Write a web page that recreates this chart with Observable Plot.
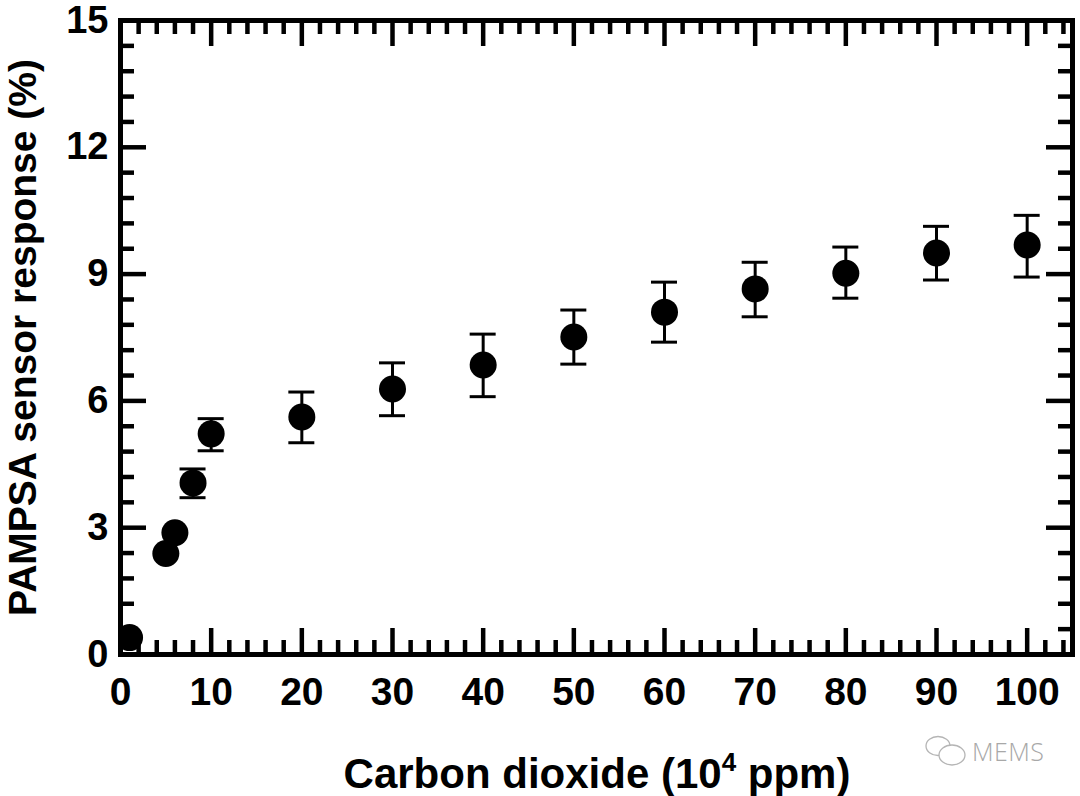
<!DOCTYPE html>
<html><head><meta charset="utf-8">
<script src="https://cdn.jsdelivr.net/npm/d3@7"></script>
<script src="https://cdn.jsdelivr.net/npm/@observablehq/plot@0.6"></script>
<style>
html,body{margin:0;padding:0;background:#fff;}
#chart{width:1080px;height:796px;}
</style></head><body><div id="chart"></div>
<script>
// CO2 concentration (10^4 ppm)
const concentration = [1, 5, 6, 8, 10, 20, 30, 40, 50, 60, 70, 80, 90, 100];
// PAMPSA sensor response (%)
const response = [0.4, 2.39, 2.88, 4.06, 5.22, 5.62, 6.28, 6.85, 7.51, 8.10, 8.65, 9.02, 9.50, 9.69];
// error bar ends (null = hidden behind marker)
const errLow  = [null, null, null, 3.71, 4.82, 5.01, 5.65, 6.10, 6.87, 7.39, 7.99, 8.43, 8.86, 8.93];
const errHigh = [null, null, null, 4.39, 5.58, 6.21, 6.90, 7.58, 8.15, 8.81, 9.28, 9.64, 10.13, 10.39];

const xMajorTicks = [0, 10, 20, 30, 40, 50, 60, 70, 80, 90, 100];
const yMajorTicks = [0, 3, 6, 9, 12, 15];
const xMinorTicks = d3.range(0, 53).map(i => i * 2).filter(v => v % 10 !== 0);
const yMinorTicks = d3.range(0, 26).filter(i => i % 5 !== 0).map(i => i * 0.6);

const xLabel = "Carbon dioxide (10";
const xLabelSup = "4";
const xLabelEnd = " ppm)";
const yLabel = "PAMPSA sensor response (%)";

const data = concentration.map((c, i) => ({c, r: response[i], lo: errLow[i], hi: errHigh[i]}));
const errData = data.filter(d => d.lo != null);

const W = 1080, H = 796, mL = 120, mR = 8, mT = 20, mB = 142;
const innerW = W - mL - mR, innerH = H - mT - mB;
const minorLen = 14, majorLen = 26, tickW = 4.5;
const font = "'Liberation Sans', Arial, Helvetica, sans-serif";

const plot = Plot.plot({
  width: W, height: H,
  marginLeft: mL, marginRight: mR, marginTop: mT, marginBottom: mB,
  x: {domain: [0, 105], label: null},
  y: {domain: [0, 15], label: null},
  style: {fontFamily: font, background: "#fff", color: "#000"},
  marks: [
    Plot.ruleX(errData, {x: "c", y1: "lo", y2: "hi", strokeWidth: 3, stroke: "#000"}),
    Plot.ruleY(errData, {y: "lo", x1: "c", x2: "c", insetLeft: -13, insetRight: -13, strokeWidth: 3, stroke: "#000"}),
    Plot.ruleY(errData, {y: "hi", x1: "c", x2: "c", insetLeft: -13, insetRight: -13, strokeWidth: 3, stroke: "#000"}),
    Plot.dot(data, {x: "c", y: "r", r: 13.5, fill: "#000", stroke: "none", clip: true}),
    // inward ticks, bottom & top
    Plot.ruleX(xMinorTicks, {insetTop: innerH - minorLen, strokeWidth: tickW, stroke: "#000"}),
    Plot.ruleX(xMinorTicks, {insetBottom: innerH - minorLen, strokeWidth: tickW, stroke: "#000"}),
    Plot.ruleX(xMajorTicks, {insetTop: innerH - majorLen, strokeWidth: tickW, stroke: "#000"}),
    Plot.ruleX(xMajorTicks, {insetBottom: innerH - majorLen, strokeWidth: tickW, stroke: "#000"}),
    // inward ticks, left & right
    Plot.ruleY(yMinorTicks, {insetRight: innerW - minorLen, strokeWidth: tickW, stroke: "#000"}),
    Plot.ruleY(yMinorTicks, {insetLeft: innerW - minorLen, strokeWidth: tickW, stroke: "#000"}),
    Plot.ruleY(yMajorTicks, {insetRight: innerW - majorLen, strokeWidth: tickW, stroke: "#000"}),
    Plot.ruleY(yMajorTicks, {insetLeft: innerW - majorLen, strokeWidth: tickW, stroke: "#000"}),
    Plot.frame({stroke: "#000", strokeWidth: 5}),
    Plot.axisX(xMajorTicks, {tickSize: 0, tickPadding: 23, fontSize: 39, fontWeight: "bold", label: null}),
    Plot.axisY(yMajorTicks, {tickSize: 0, tickPadding: 12, fontSize: 38, fontWeight: "bold", label: null}),
    Plot.text([yLabel], {frameAnchor: "left", textAnchor: "middle", rotate: -90, dx: -97, fontSize: 39, fontWeight: "bold", lineAnchor: "middle", fill: "#000"})
  ]
});
document.getElementById("chart").appendChild(plot);

const svg = d3.select(plot);
const t = svg.append("text")
  .attr("x", 597).attr("y", 788)
  .attr("text-anchor", "middle")
  .attr("font-family", font).attr("font-weight", "bold").attr("font-size", 42).attr("fill", "#000");
t.append("tspan").text(xLabel);
t.append("tspan").attr("font-size", 26).attr("dy", -17).text(xLabelSup);
t.append("tspan").attr("dy", 17).text(xLabelEnd);

// watermark
const wm = svg.append("g").attr("fill", "#fff").attr("stroke", "#b5b5b5").attr("stroke-width", 1.3);
wm.append("ellipse").attr("cx", 938).attr("cy", 746).attr("rx", 12).attr("ry", 9.5);
wm.append("ellipse").attr("cx", 952).attr("cy", 755).attr("rx", 13).attr("ry", 10);
svg.append("text").attr("x", 972).attr("y", 761).attr("text-anchor", "start")
  .attr("font-family", "'Open Sans', 'DejaVu Sans', sans-serif").attr("font-weight", 300)
  .attr("font-size", 25).attr("textLength", 72).attr("fill", "#a8a8a8").text("MEMS");
</script></body></html>
